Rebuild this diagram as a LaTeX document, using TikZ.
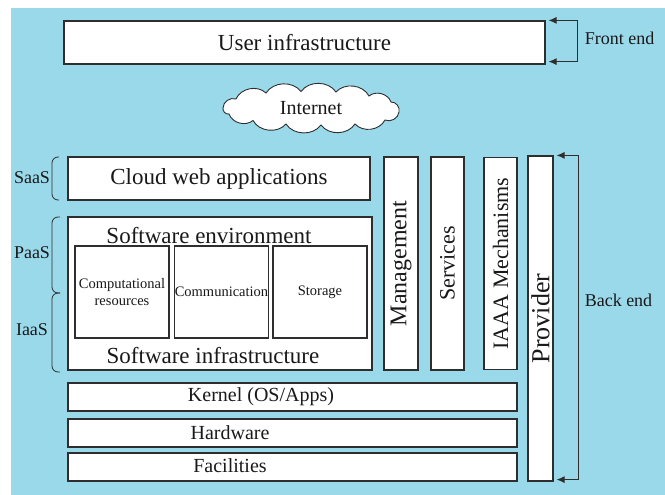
\documentclass[tikz,border=0pt]{standalone}
\usepackage{fontspec}
\setmainfont{Liberation Serif}
\usetikzlibrary{arrows.meta}
\definecolor{skyback}{HTML}{99D9EA}
\definecolor{edge}{HTML}{2E2E2E}

\begin{document}
\begin{tikzpicture}[x=1pt,y=-1pt,
    plainbox/.style={draw=edge,line width=1.2pt,fill=white,inner sep=0pt,text=black!90},
    txtbig/.style={font=\fontsize{23}{26}\selectfont,text=black!90},
    txtmid/.style={font=\fontsize{20}{23}\selectfont,text=black!90},
    txtside/.style={font=\fontsize{18}{21}\selectfont,text=black!90},
    txtsmall/.style={font=\fontsize{14.5}{17}\selectfont,align=center},
    puff/.style={bend left=55},
    endarrow/.style={draw=edge,line width=0.9pt,{Latex[length=8pt,width=7pt]}-{Latex[length=8pt,width=7pt]}},
    tiebrace/.style={draw=edge,line width=0.8pt,rounded corners=6pt}]
   \useasboundingbox (0,0) rectangle (665,495);
   \fill[skyback] (11,8) rectangle (665,495);

   % front end
   \node[plainbox,txtbig,minimum width=481pt,minimum height=43pt] (user) at (304.5,42.5) {User infrastructure};
   \draw[endarrow] ([xshift=3pt]user.north east) -- ++(29,0) |- ([xshift=3pt,yshift=3pt]user.south east);
   \node[txtside] (front) at (619.5,38) {Front end};

   % internet cloud, puffs going clockwise
   \coordinate (cc) at (311,108);
   \draw[draw=edge,line width=0.9pt,fill=white] (cc) ++(-88pt,0pt)
      to[puff] ++(13pt,9pt)   to[puff] ++(30pt,6pt)   to[puff] ++(35pt,1.5pt)
      to[puff] ++(35pt,-0.5pt) to[puff] ++(33pt,-4pt) to[puff] ++(22pt,-6pt)
      to[puff] ++(8pt,-10pt)  to[puff] ++(-14pt,-8pt) to[puff] ++(-30pt,-4pt)
      to[puff] ++(-34pt,-1pt) to[puff] ++(-35pt,1pt)  to[puff] ++(-33pt,3.5pt)
      to[puff] ++(-24pt,6.5pt) to[puff] ++(-6pt,6pt) -- cycle;
   \node[txtmid] (net) at (cc) {Internet};

   % service layers
   \node[plainbox,txtbig,minimum width=302pt,minimum height=43pt] (web) at (219,178.5) {Cloud web applications};
   \node[plainbox,minimum width=304pt,minimum height=153pt] (soft) at (220,293.5) {};
   \node[txtbig] (env) at (209,236) {Software environment};
   \node[txtbig] (infra) at (213,356) {Software infrastructure};
   \node[plainbox,txtsmall,minimum width=94pt,minimum height=92pt] (comp) at (122,292) {Computational\\resources};
   \node[plainbox,txtsmall,minimum width=93pt,minimum height=92pt] (comm) at (221.5,292) {Communication};
   \node[plainbox,txtsmall,minimum width=94pt,minimum height=92pt] (stor) at (320,292) {Storage};

   % left labels
   \draw[tiebrace] (59,157) -| (52,178) |- (59,200);
   \draw[tiebrace] (60,217) -| (52,255) |- (60,293);
   \draw[tiebrace] (60,293) -| (52,332) |- (60,372);
   \node[txtside] (saas) at (32,178) {SaaS};
   \node[txtside] (paas) at (32,253) {PaaS};
   \node[txtside] (iaas) at (32,330) {IaaS};

   % vertical columns
   \node[plainbox,rotate=90,minimum width=213pt,minimum height=34pt,font=\fontsize{24}{27}\selectfont] (mgmt) at (401,263.5) {Management};
   \node[plainbox,rotate=90,minimum width=213pt,minimum height=33pt,font=\fontsize{22}{25}\selectfont] (serv) at (447.5,263.5) {Services};
   \node[plainbox,rotate=90,minimum width=212pt,minimum height=33pt,font=\fontsize{22}{25}\selectfont] (iaaa) at (500.5,263.5) {IAAA Mechanisms};
   \node[plainbox,rotate=90,minimum width=325pt,minimum height=25pt,font=\fontsize{26}{29}\selectfont] (prov) at (540.5,318.5) {Provider};

   % back end
   \draw[endarrow] ([xshift=3pt]prov.south east) -- ++(22,0) |- ([xshift=3pt,yshift=2pt]prov.south west);
   \node[txtside] (back) at (618.5,300) {Back end};

   % base layers
   \node[plainbox,minimum width=449pt,minimum height=28pt] (kern) at (292.5,397) {};
   \node[plainbox,minimum width=449pt,minimum height=28pt] (hard) at (292.5,433) {};
   \node[plainbox,minimum width=449pt,minimum height=28pt] (fac) at (292.5,467) {};
   \node[txtmid] (kerntxt) at (261,397) {Kernel (OS/Apps)};
   \node[txtmid] (hardtxt) at (230,433) {Hardware};
   \node[txtmid] (factxt) at (230,466) {Facilities};
  \end{tikzpicture}
\end{document}
